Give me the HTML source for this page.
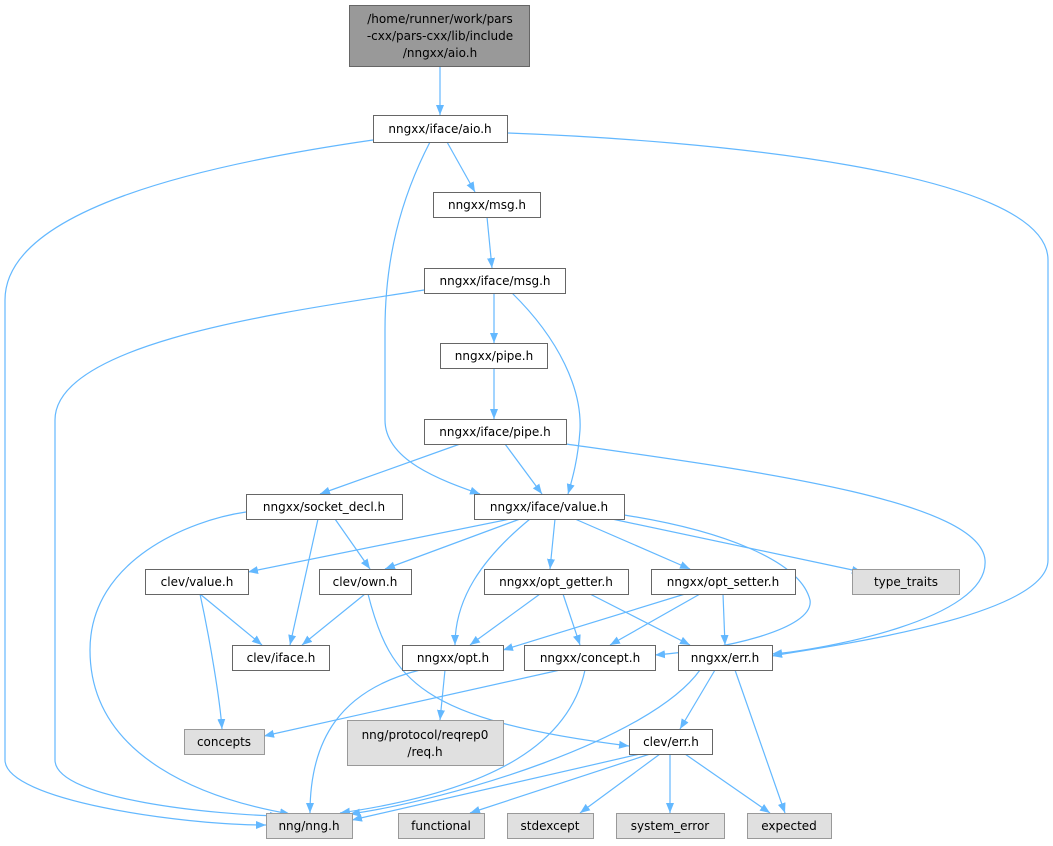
<!DOCTYPE html>
<html><head><meta charset="utf-8"><style>
html,body{margin:0;padding:0;background:#fff;}
svg{display:block;}
text{font-family:"DejaVu Sans","Liberation Sans",sans-serif;font-size:12px;fill:#000;}
</style></head><body>
<svg width="1053" height="846" viewBox="0 0 1053 846" xmlns="http://www.w3.org/2000/svg">
<defs><marker id="a" viewBox="0 0 10 10" refX="10" refY="5" markerWidth="10" markerHeight="10" markerUnits="userSpaceOnUse" orient="auto"><path d="M0,1 L10,5 L0,9 z" fill="#63b8ff"/></marker></defs>
<g fill="none" stroke="#63b8ff" stroke-width="1.2" marker-end="url(#a)">
<path d="M440,67 L440,115"/>
<path d="M373,140 C200,165 5,210 5,300 L5,760 C5,800 180,825 266,825"/>
<path d="M430,142 C400,200 385,260 385,330 L385,420 C385,460 440,480 480,494"/>
<path d="M447,142 L475,192"/>
<path d="M507,133 C700,140 1048,170 1048,260 L1048,560 C1048,620 800,650 772,656"/>
<path d="M487,217 L492,268"/>
<path d="M424,290 C300,310 55,340 55,420 L55,760 C55,800 220,815 280,816"/>
<path d="M494,293 L494,343"/>
<path d="M512,293 C560,340 582,390 580,430 C578,460 572,480 568,494"/>
<path d="M494,368 L494,419"/>
<path d="M460,444 L320,494"/>
<path d="M505,444 L542,494"/>
<path d="M566,444 C750,470 980,500 985,560 C990,620 820,650 772,654"/>
<path d="M246,512 C190,520 90,560 90,650 C90,760 210,800 290,814"/>
<path d="M335,519 L370,569"/>
<path d="M318,519 L290,645"/>
<path d="M510,519 L248,572"/>
<path d="M520,519 L385,569"/>
<path d="M530,519 C480,560 455,600 455,645"/>
<path d="M555,519 L550,569"/>
<path d="M575,519 L690,569"/>
<path d="M612,519 L862,572"/>
<path d="M624,515 C720,530 800,560 810,600 C815,630 720,650 655,655"/>
<path d="M200,594 L262,645"/>
<path d="M200,594 C210,640 220,700 222,729"/>
<path d="M365,594 L302,645"/>
<path d="M368,594 C390,680 420,720 629,746"/>
<path d="M540,594 L470,645"/>
<path d="M563,594 L580,645"/>
<path d="M590,594 L690,645"/>
<path d="M685,594 L503,650"/>
<path d="M700,594 L610,645"/>
<path d="M723,594 L725,645"/>
<path d="M420,670 C340,690 310,740 310,813"/>
<path d="M445,670 L440,720"/>
<path d="M560,670 L264,736"/>
<path d="M585,670 C570,740 500,790 340,813"/>
<path d="M700,670 C650,740 450,800 350,814"/>
<path d="M715,670 L680,729"/>
<path d="M735,670 L785,813"/>
<path d="M640,754 L352,820"/>
<path d="M650,754 L470,813"/>
<path d="M660,754 L580,813"/>
<path d="M670,754 L670,813"/>
<path d="M685,754 L770,813"/>
</g>
<g stroke="#666" stroke-width="1">
<rect x="349.5" y="5.5" width="180" height="61" fill="#999"/>
<rect x="373.5" y="115.5" width="134" height="27" fill="#fff"/>
<rect x="433.5" y="192.5" width="107" height="25" fill="#fff"/>
<rect x="424.5" y="268.5" width="141" height="25" fill="#fff"/>
<rect x="440.5" y="343.5" width="107" height="25" fill="#fff"/>
<rect x="424.5" y="419.5" width="142" height="25" fill="#fff"/>
<rect x="246.5" y="494.5" width="156" height="25" fill="#fff"/>
<rect x="474.5" y="494.5" width="150" height="25" fill="#fff"/>
<rect x="145.5" y="569.5" width="103" height="25" fill="#fff"/>
<rect x="319.5" y="569.5" width="92" height="25" fill="#fff"/>
<rect x="484.5" y="569.5" width="144" height="25" fill="#fff"/>
<rect x="651.5" y="569.5" width="144" height="25" fill="#fff"/>
<rect x="232.5" y="645.5" width="97" height="25" fill="#fff"/>
<rect x="402.5" y="645.5" width="101" height="25" fill="#fff"/>
<rect x="524.5" y="645.5" width="131" height="25" fill="#fff"/>
<rect x="678.5" y="645.5" width="94" height="25" fill="#fff"/>
<rect x="629.5" y="729.5" width="83" height="25" fill="#fff"/>
</g>
<g stroke="#999" stroke-width="1" fill="#e0e0e0">
<rect x="852.5" y="569.5" width="107" height="25"/>
<rect x="184.5" y="729.5" width="80" height="25"/>
<rect x="347.5" y="720.5" width="156" height="45"/>
<rect x="266.5" y="813.5" width="86" height="25"/>
<rect x="398.5" y="813.5" width="86" height="25"/>
<rect x="507.5" y="813.5" width="86" height="25"/>
<rect x="616.5" y="813.5" width="108" height="25"/>
<rect x="747.5" y="813.5" width="84" height="25"/>
</g>
<g text-anchor="middle">
<text x="440" y="23">/home/runner/work/pars</text>
<text x="440" y="40">-cxx/pars-cxx/lib/include</text>
<text x="440" y="57">/nngxx/aio.h</text>
<text x="440" y="133">nngxx/iface/aio.h</text>
<text x="487" y="209">nngxx/msg.h</text>
<text x="495" y="285">nngxx/iface/msg.h</text>
<text x="494" y="360">nngxx/pipe.h</text>
<text x="495" y="436">nngxx/iface/pipe.h</text>
<text x="324" y="511">nngxx/socket_decl.h</text>
<text x="549" y="511">nngxx/iface/value.h</text>
<text x="197" y="586">clev/value.h</text>
<text x="365" y="586">clev/own.h</text>
<text x="556" y="586">nngxx/opt_getter.h</text>
<text x="723" y="586">nngxx/opt_setter.h</text>
<text x="906" y="586">type_traits</text>
<text x="281" y="662">clev/iface.h</text>
<text x="453" y="662">nngxx/opt.h</text>
<text x="590" y="662">nngxx/concept.h</text>
<text x="725" y="662">nngxx/err.h</text>
<text x="224" y="746">concepts</text>
<text x="425" y="739">nng/protocol/reqrep0</text>
<text x="425" y="756">/req.h</text>
<text x="671" y="746">clev/err.h</text>
<text x="309" y="830">nng/nng.h</text>
<text x="441" y="830">functional</text>
<text x="550" y="830">stdexcept</text>
<text x="670" y="830">system_error</text>
<text x="789" y="830">expected</text>
</g>
</svg>
</body></html>
